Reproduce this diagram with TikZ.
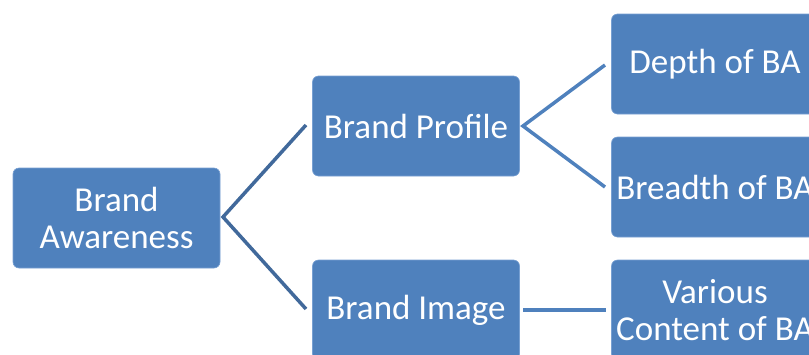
\documentclass[tikz,border=0pt]{standalone}
\usepackage{fontspec}
\setmainfont{Carlito}
\definecolor{boxfill}{RGB}{79,129,189}
\definecolor{boxedge}{RGB}{120,160,210}
\definecolor{linkdark}{RGB}{65,105,155}
\definecolor{linklight}{RGB}{79,129,189}
\begin{document}
\begin{tikzpicture}[x=1pt,y=-1pt,
  card/.style={draw=boxedge,line width=0.6pt,fill=boxfill,rounded corners=6pt,
    minimum width=207pt,minimum height=100pt,inner sep=0pt,
    text=white,align=center,font=\fontsize{35}{37}\selectfont},
  linkA/.style={draw=linkdark,line width=3.5pt},
  linkB/.style={draw=linklight,line width=3.5pt}]
  \useasboundingbox (0,0) rectangle (809,354);
  \clip (0,0) rectangle (809,354);
  % nodes
  \node[card] (ba) at (116.5,218) {Brand\\Awareness};
  \node[card] (bp) at (416,126) {Brand Profile};
  \node[card] (bi) at (416,310) {Brand Image};
  \node[card] (depth) at (715,64) {Depth of BA};
  \node[card] (breadth) at (715,187) {Breadth of BA};
  \node[card] (various) at (715,310) {Various\\Content of BA};
  % fork points and line ends
  \coordinate (f1) at (223,217);
  \coordinate (f1a) at (306,125);
  \coordinate (f1b) at (306,309);
  \coordinate (f2) at (523,126);
  \coordinate (f2a) at (605,65);
  \coordinate (f2b) at (605,187);
  \coordinate (f3a) at (523,310);
  \coordinate (f3b) at (606,310);
  % connectors
  \draw[linkA] (f1a) -- (f1) -- (f1b);
  \draw[linkB] (f2a) -- (f2) -- (f2b);
  \draw[linkB] (f3a) -- (f3b);
\end{tikzpicture}
\end{document}
